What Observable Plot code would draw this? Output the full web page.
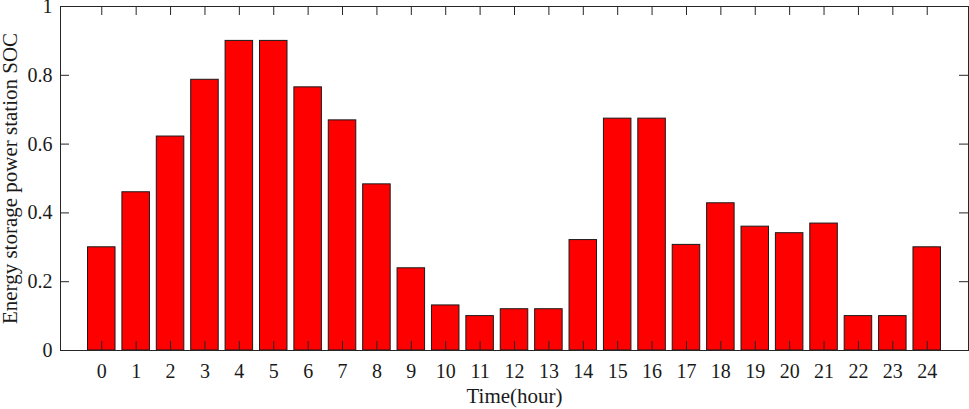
<!DOCTYPE html>
<html><head><meta charset="utf-8">
<script src="https://cdn.jsdelivr.net/npm/d3@7"></script>
<script src="https://cdn.jsdelivr.net/npm/@observablehq/plot@0.6"></script>
<style>body{margin:0;background:#fff}</style>
</head><body><div id="chart"></div>
<script>
const hours = [0,1,2,3,4,5,6,7,8,9,10,11,12,13,14,15,16,17,18,19,20,21,22,23,24];
const soc = [0.30, 0.46, 0.622, 0.787, 0.90, 0.90, 0.765, 0.669, 0.483, 0.239, 0.131, 0.10, 0.12, 0.12, 0.321, 0.674, 0.674, 0.307, 0.428, 0.36, 0.341, 0.369, 0.10, 0.10, 0.30];
const yTicks = [0, 0.2, 0.4, 0.6, 0.8, 1];
const xLabel = "Time(hour)";
const yLabel = "Energy storage power station SOC";

const data = hours.map((h, i) => ({hour: h, soc: soc[i]}));
const W = 969, H = 409, mL = 60, mR = 1, mT = 6, mB = 59;
const innerW = W - mL - mR, innerH = H - mT - mB;
const tick = 9;
const ink = "#262626";
const font = "'Liberation Serif', 'Times New Roman', serif";

const chart = Plot.plot({
  width: W, height: H,
  marginLeft: mL, marginRight: mR, marginTop: mT, marginBottom: mB,
  style: {fontFamily: font, fontSize: "20px", color: "#1a1a1a", background: "#fff"},
  x: {domain: [-1.2, 25.2]},
  y: {domain: [0, 1]},
  marks: [
    Plot.rectY(data, {x1: d => d.hour - 0.4, x2: d => d.hour + 0.4, y: "soc", fill: "#ff0000", stroke: "#1a1a1a", strokeWidth: 1}),
    Plot.frame({stroke: ink}),
    Plot.ruleX(hours, {x: d => d, insetTop: innerH - tick, stroke: ink}),
    Plot.ruleX(hours, {x: d => d, insetBottom: innerH - tick, stroke: ink}),
    Plot.ruleY(yTicks, {y: d => d, insetRight: innerW - tick, stroke: ink}),
    Plot.ruleY(yTicks, {y: d => d, insetLeft: innerW - tick, stroke: ink}),
    Plot.axisX(hours, {tickSize: 0, tickPadding: 13, tickFormat: d => String(d), label: null}),
    Plot.axisY(yTicks, {tickSize: 0, tickPadding: 8, tickFormat: d => String(d), label: null}),
    Plot.text([xLabel], {text: d => d, frameAnchor: "bottom", textAnchor: "middle", lineAnchor: "middle", dy: 46, fontSize: 21, fill: "#1a1a1a"}),
    Plot.text([yLabel], {text: d => d, frameAnchor: "left", textAnchor: "middle", lineAnchor: "middle", dx: -50, rotate: -90, fontSize: 21, fill: "#1a1a1a"})
  ]
});
document.getElementById("chart").append(chart);
</script>
</body></html>
